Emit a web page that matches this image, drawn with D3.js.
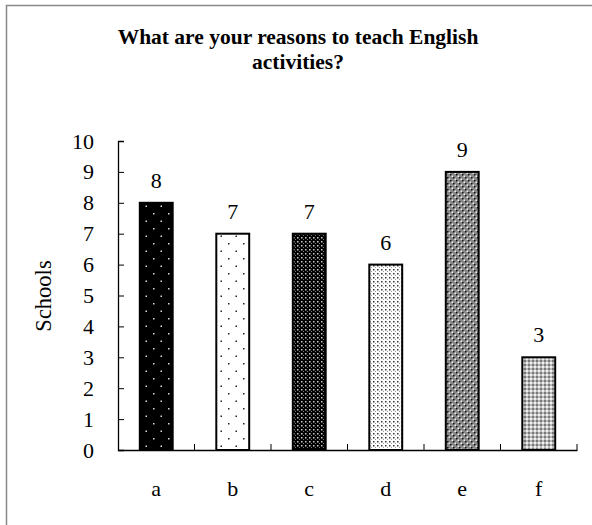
<!DOCTYPE html>
<html><head><meta charset="utf-8">
<script src="https://cdn.jsdelivr.net/npm/d3@7/dist/d3.min.js"></script>
<style>body{margin:0;background:#fff}svg{display:block}</style>
</head><body>
<script>
const categories = ["a","b","c","d","e","f"];
const values = [8,7,7,6,9,3];
const yTicks = [0,1,2,3,4,5,6,7,8,9,10];
const titleLines = ["What are your reasons to teach English","activities?"];
const yTitle = "Schools";

const W=592,H=525;
const svg=d3.select("body").append("svg").attr("width",W).attr("height",H);
const defs=svg.append("defs");
function pat(id,w,h,bg,dots){
  const p=defs.append("pattern").attr("id",id).attr("patternUnits","userSpaceOnUse").attr("width",w).attr("height",h);
  p.append("rect").attr("width",w).attr("height",h).attr("fill",bg);
  dots.forEach(d=>p.append("rect").attr("x",d[0]).attr("y",d[1]).attr("width",d[2]).attr("height",d[2]).attr("fill",d[3]));
}
pat("pa",15,15,"#000",[[3,3,1.5,"#ddd"],[10.5,10.5,1.5,"#ddd"]]);
pat("pb",15,15,"#fff",[[3,3,1.5,"#222"],[10.5,10.5,1.5,"#222"]]);
pat("pc",4,4,"#000",[[1,1,1.5,"#ccc"],[3,3,1,"#777"]]);
pat("pd",4,4,"#fff",[[1,1,1.5,"#333"],[3,3,1,"#999"]]);
pat("pe",6,6,"#888",[[0,0,1.5,"#111"],[3,3,1.5,"#111"],[1.5,1.5,1.5,"#eee"],[4.5,4.5,1.5,"#eee"]]);
pat("pf",4,4,"#bbb",[[0,0,2,"#777"],[2,2,2,"#eee"]]);
const fills=["url(#pa)","url(#pb)","url(#pc)","url(#pd)","url(#pe)","url(#pf)"];

svg.append("rect").attr("x",6.5).attr("y",5.5).attr("width",W).attr("height",H).attr("fill","none").attr("stroke","#888").attr("stroke-width",1.5);

const x=d3.scaleBand().domain(categories).range([118,577]).paddingInner(0.57).paddingOuter(0.285);
const y=d3.scaleLinear().domain([0,10]).range([450,141]);

const font="'Liberation Serif','Times New Roman',serif";
const t=svg.append("text").attr("x",298).attr("y",44).attr("text-anchor","middle")
  .style("font-family",font).style("font-weight","bold").style("font-size","21.5px");
titleLines.forEach((l,i)=>t.append("tspan").attr("x",298).attr("dy",i?25:0).text(l));

// bars
svg.selectAll(".bar").data(values).enter().append("rect")
  .attr("x",(d,i)=>x(categories[i])).attr("width",x.bandwidth())
  .attr("y",d=>y(d)).attr("height",d=>y(0)-y(d))
  .attr("fill",(d,i)=>fills[i]).attr("stroke","#000").attr("stroke-width",2);

// y axis
const ya=svg.append("g").attr("transform","translate(118,0)")
  .call(d3.axisRight(y).tickValues(yTicks).tickSize(6).tickFormat(""));
ya.select(".domain").attr("stroke","#000").attr("stroke-width",1.3);
ya.selectAll("line").attr("stroke","#000");
svg.selectAll(".ylab").data(yTicks).enter().append("text")
  .attr("x",94).attr("y",d=>y(d)+7.5).attr("text-anchor","end")
  .style("font-family",font).style("font-size","22px").text(d=>d);

// x axis
const xa=svg.append("g").attr("transform","translate(0,450)")
  .call(d3.axisBottom(x).tickSize(0).tickFormat(""));
xa.select(".domain").attr("stroke","#000").attr("stroke-width",1.3);
const step=x.step();
svg.selectAll(".xt").data(categories).enter().append("line")
  .attr("x1",(d,i)=>118+step*(i+1)).attr("x2",(d,i)=>118+step*(i+1))
  .attr("y1",450).attr("y2",444).attr("stroke","#000");
svg.selectAll(".xlab").data(categories).enter().append("text")
  .attr("x",d=>x(d)+x.bandwidth()/2).attr("y",496).attr("text-anchor","middle")
  .style("font-family",font).style("font-size","22px").text(d=>d);

// value labels
svg.selectAll(".vl").data(values).enter().append("text")
  .attr("x",(d,i)=>x(categories[i])+x.bandwidth()/2).attr("y",d=>y(d)-15)
  .attr("text-anchor","middle").style("font-family",font).style("font-size","22px").text(d=>d);

svg.append("text").attr("transform","translate(51,296) rotate(-90)").attr("text-anchor","middle")
  .style("font-family",font).style("font-size","22.5px").text(yTitle);
</script>
</body></html>
